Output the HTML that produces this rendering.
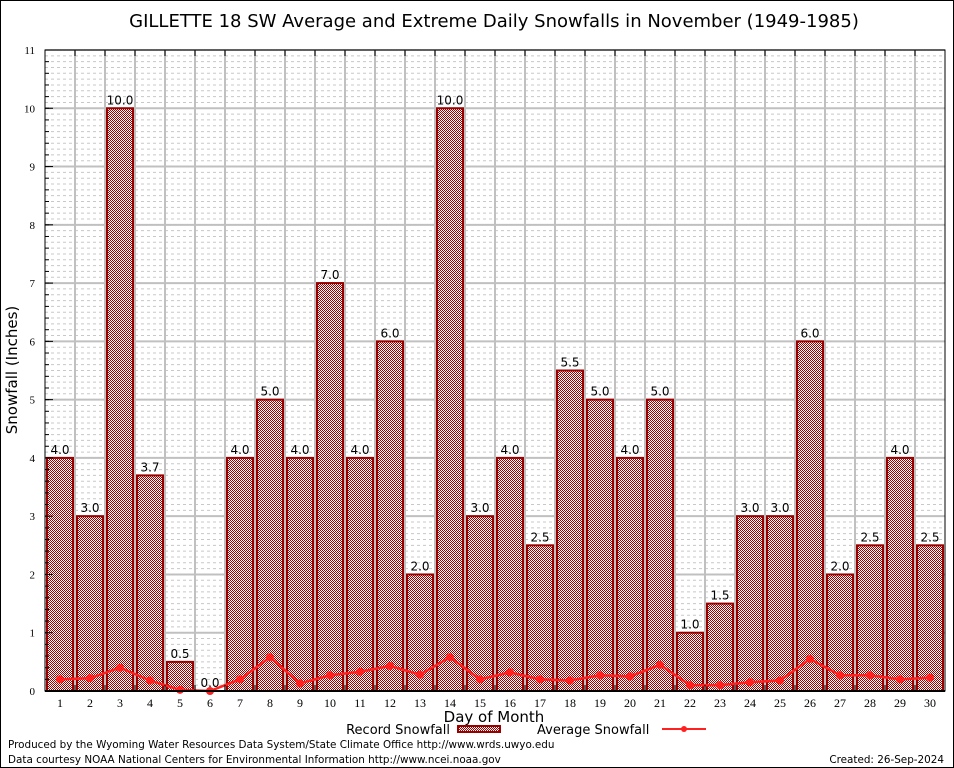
<!DOCTYPE html>
<html><head><meta charset="utf-8"><style>
body{margin:0;background:#fff;}
svg{display:block;font-family:"DejaVu Sans","Liberation Sans",sans-serif;}
</style></head><body>
<svg id="chart" width="954" height="768" viewBox="0 0 954 768">
<defs>
<pattern id="chk" width="2" height="2" patternUnits="userSpaceOnUse">
<rect width="2" height="2" fill="#fff"/><rect width="1" height="1" fill="#a00000"/><rect x="1" y="1" width="1" height="1" fill="#a00000"/>
</pattern>
</defs>
<rect x="0.5" y="0.5" width="953" height="767" fill="#fff" stroke="#000"/>
<text x="494" y="27" text-anchor="middle" font-size="18">GILLETTE 18 SW Average and Extreme Daily Snowfalls in November (1949-1985)</text>
<g id="grid"></g>
<g id="bars"></g>
<g id="line"></g>
<g id="axes"></g>
<text x="17" y="370" text-anchor="middle" font-size="15" transform="rotate(-90 17 370)">Snowfall (Inches)</text>
<text x="494" y="722" text-anchor="middle" font-size="15">Day of Month</text>
<g>
<text x="450" y="734" text-anchor="end" font-size="13">Record Snowfall</text>
<rect x="458" y="726" width="42" height="6" fill="url(#chk)" stroke="#990000" stroke-width="2"/>
<text x="537" y="734" font-size="13">Average Snowfall</text>
<line x1="662" y1="729" x2="706" y2="729" stroke="#ff2020" stroke-width="2"/>
<circle cx="684" cy="729" r="3" fill="#ff2020"/>
</g>
<text x="8" y="748" font-size="10.4">Produced by the Wyoming Water Resources Data System/State Climate Office http://www.wrds.uwyo.edu</text>
<text x="8" y="763" font-size="10.4">Data courtesy NOAA National Centers for Environmental Information http://www.ncei.noaa.gov</text>
<text x="944" y="763" text-anchor="end" font-size="10.4">Created: 26-Sep-2024</text>
</svg>
<script>
const days=[1,2,3,4,5,6,7,8,9,10,11,12,13,14,15,16,17,18,19,20,21,22,23,24,25,26,27,28,29,30];
const recordValues=[4.0,3.0,10.0,3.7,0.5,0.0,4.0,5.0,4.0,7.0,4.0,6.0,2.0,10.0,3.0,4.0,2.5,5.5,5.0,4.0,5.0,1.0,1.5,3.0,3.0,6.0,2.0,2.5,4.0,2.5];
const averageValues=[0.2,0.22,0.4,0.18,0.02,0.0,0.2,0.58,0.13,0.27,0.33,0.43,0.28,0.58,0.2,0.32,0.2,0.18,0.27,0.25,0.45,0.1,0.1,0.15,0.18,0.55,0.27,0.27,0.2,0.23];
const yTicks=[0,1,2,3,4,5,6,7,8,9,10,11];
const NS='http://www.w3.org/2000/svg';
const L=45,R=945,T=50,B=691,yMax=11;
const x=d=>L+(d-0.5)*(R-L)/30;
const y=v=>B-v*(B-T)/yMax;
function mk(tag,a,parent){const e=document.createElementNS(NS,tag);for(const k in a)e.setAttribute(k,a[k]);parent.appendChild(e);return e;}
const grid=document.getElementById('grid'),bars=document.getElementById('bars'),line=document.getElementById('line'),axes=document.getElementById('axes');
for(let v=0;v<yMax;v+=0.1){const vv=Math.round(v*10)/10;if(Math.abs(vv-Math.round(vv))<1e-6)continue;
const g=mk('line',{x1:L,x2:R,y1:y(vv),y2:y(vv),stroke:'#c8c8c8','stroke-width':1,'stroke-dasharray':'3,3'},grid);

}
yTicks.forEach(v=>{const g=mk('line',{x1:L,x2:R,y1:y(v),y2:y(v),stroke:'#c0c0c0','stroke-width':2},grid);


const t=mk('text',{x:L-10,y:y(v)+4,'text-anchor':'end','font-size':11,'font-family':'"Liberation Serif",serif'},axes);t.textContent=v;


const tk=mk('line',{x1:L,x2:L+8,y1:y(v),y2:y(v),stroke:'#000','stroke-width':1},axes);

});
for(let v=0;v<yMax;v+=0.2){const tk=mk('line',{x1:L,x2:L+4,y1:y(v),y2:y(v),stroke:'#000'},axes);

}
for(let i=1;i<30;i++){const xv=L+i*(R-L)/30;const g=mk('line',{x1:xv,x2:xv,y1:T,y2:B,stroke:'#c0c0c0','stroke-width':2},grid);


const tk=mk('line',{x1:xv,x2:xv,y1:B,y2:B-6,stroke:'#000'},axes);


const tk2=mk('line',{x1:xv,x2:xv,y1:T,y2:T+6,stroke:'#000'},axes);

}
days.forEach((d,i)=>{const v=recordValues[i];const cx=x(d);
if(v>0){const r=mk('rect',{x:cx-13,y:y(v),width:26,height:B-y(v),fill:'url(#chk)',stroke:'#990000','stroke-width':2},bars);

}
const t=mk('text',{x:cx,y:y(v)-4,'text-anchor':'middle','font-size':12},bars);t.textContent=v.toFixed(1);


const xl=mk('text',{x:cx,y:B+16,'text-anchor':'middle','font-size':12,'font-family':'"Liberation Serif",serif'},axes);xl.textContent=d;

});
const fr=mk('rect',{x:L,y:T,width:R-L,height:B-T,fill:'none',stroke:'#000','stroke-width':1},axes);


const bl=mk('line',{x1:L,x2:R,y1:B,y2:B,stroke:'#000','stroke-width':2},axes);


const pts=days.map((d,i)=>x(d)+','+y(averageValues[i])).join(' ');
const pl=mk('polyline',{points:pts,fill:'none',stroke:'#ff2020','stroke-width':2.5},line);


days.forEach((d,i)=>{const c=mk('circle',{cx:x(d),cy:y(averageValues[i]),r:4,fill:'#ff2020'},line);

});
</script>
</body></html>
